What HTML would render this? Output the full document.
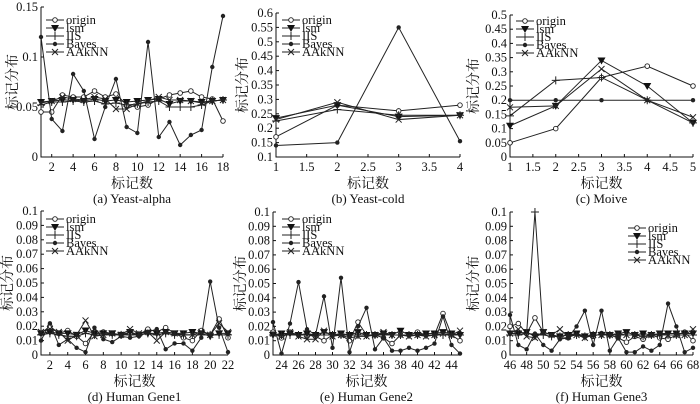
<!DOCTYPE html>
<html><head><meta charset="utf-8"><style>
body{margin:0;background:#fff}
svg{display:block}
text{font-family:"Liberation Serif","Noto Serif CJK SC",serif;fill:#111}
</style></head><body>
<svg id="c" width="700" height="404" xmlns="http://www.w3.org/2000/svg"></svg>
<script>
const seriesNames = ["origin","lsm","IIS","Bayes","AAkNN"];
// Panel (a) Yeast-alpha
const aX = [1,2,3,4,5,6,7,8,9,10,11,12,13,14,15,16,17,18];
const aOrigin = [0.045,0.045,0.062,0.06,0.06,0.066,0.06,0.063,0.052,0.05,0.052,0.058,0.062,0.064,0.066,0.06,0.058,0.036];
const aLsm = [0.055,0.056,0.057,0.057,0.056,0.058,0.056,0.057,0.055,0.056,0.057,0.058,0.053,0.056,0.056,0.055,0.056,0.057];
const aIIS = [0.052,0.055,0.055,0.056,0.055,0.056,0.053,0.054,0.052,0.053,0.055,0.056,0.05,0.05,0.05,0.052,0.056,0.057];
const aBayes = [0.12,0.038,0.026,0.083,0.066,0.018,0.05,0.078,0.03,0.024,0.115,0.02,0.035,0.012,0.022,0.027,0.09,0.141];
const aAAkNN = [0.054,0.056,0.06,0.058,0.057,0.06,0.058,0.048,0.048,0.053,0.056,0.06,0.057,0.057,0.056,0.054,0.056,0.057];
const aYTicks = [0,0.05,0.1,0.15];
const aXTicks = [2,4,6,8,10,12,14,16,18];
// Panel (b) Yeast-cold
const bX = [1,2,3,4];
const bOrigin = [0.17,0.28,0.26,0.28];
const bLsm = [0.235,0.28,0.24,0.245];
const bIIS = [0.225,0.265,0.245,0.245];
const bBayes = [0.14,0.15,0.55,0.155];
const bAAkNN = [0.23,0.29,0.23,0.245];
const bYTicks = [0.1,0.15,0.2,0.25,0.3,0.35,0.4,0.45,0.5,0.55,0.6];
const bXTicks = [1,1.5,2,2.5,3,3.5,4];
// Panel (c) Moive
const cX = [1,2,3,4,5];
const cOrigin = [0.05,0.1,0.28,0.32,0.25];
const cLsm = [0.11,0.18,0.34,0.25,0.12];
const cIIS = [0.145,0.27,0.28,0.2,0.12];
const cBayes = [0.2,0.2,0.2,0.2,0.2];
const cAAkNN = [0.175,0.18,0.31,0.2,0.14];
const cYTicks = [0,0.05,0.1,0.15,0.2,0.25,0.3,0.35,0.4,0.45,0.5];
const cXTicks = [1,1.5,2,2.5,3,3.5,4,4.5,5];
// Panel (d) Human Gene1
const dX = [1,2,3,4,5,6,7,8,9,10,11,12,13,14,15,16,17,18,19,20,21,22];
const dOrigin = [0.015,0.02,0.015,0.017,0.013,0.008,0.016,0.016,0.015,0.014,0.015,0.014,0.018,0.016,0.019,0.015,0.012,0.01,0.017,0.014,0.025,0.012];
const dLsm = [0.015,0.016,0.015,0.015,0.014,0.017,0.015,0.015,0.015,0.014,0.016,0.014,0.015,0.015,0.016,0.015,0.015,0.016,0.015,0.013,0.015,0.015];
const dIIS = [0.014,0.015,0.014,0.013,0.013,0.015,0.014,0.014,0.014,0.014,0.014,0.014,0.015,0.014,0.015,0.014,0.014,0.014,0.014,0.014,0.014,0.014];
const dBayes = [0.01,0.022,0.007,0.011,0.005,0.002,0.019,0.011,0.009,0.013,0.012,0.013,0.016,0.018,0.004,0.008,0.008,0.003,0.012,0.051,0.019,0.002];
const dAAkNN = [0.016,0.018,0.016,0.01,0.014,0.024,0.013,0.014,0.015,0.014,0.018,0.015,0.016,0.01,0.016,0.015,0.014,0.014,0.016,0.014,0.022,0.016];
const dYTicks = [0,0.01,0.02,0.03,0.04,0.05,0.06,0.07,0.08,0.09,0.1];
const dXTicks = [2,4,6,8,10,12,14,16,18,20,22];
// Panel (e) Human Gene2
const eX = [23,24,25,26,27,28,29,30,31,32,33,34,35,36,37,38,39,40,41,42,43,44,45];
const eOrigin = [0.016,0.012,0.016,0.014,0.014,0.013,0.01,0.014,0.014,0.01,0.023,0.014,0.014,0.012,0.008,0.014,0.014,0.016,0.014,0.014,0.029,0.014,0.01];
const eLsm = [0.014,0.015,0.015,0.014,0.015,0.014,0.016,0.014,0.015,0.014,0.016,0.014,0.014,0.015,0.014,0.017,0.014,0.014,0.015,0.015,0.016,0.015,0.014];
const eIIS = [0.014,0.014,0.014,0.014,0.014,0.014,0.014,0.014,0.014,0.014,0.014,0.014,0.014,0.014,0.014,0.014,0.014,0.014,0.014,0.014,0.014,0.014,0.014];
const eBayes = [0.023,0.001,0.022,0.051,0.018,0.014,0.041,0.005,0.054,0.002,0.02,0.033,0.004,0.012,0.003,0.003,0.005,0.003,0.005,0.008,0.027,0.007,0.001];
const eAAkNN = [0.015,0.013,0.016,0.013,0.011,0.011,0.017,0.013,0.014,0.012,0.013,0.013,0.014,0.016,0.014,0.014,0.013,0.014,0.013,0.014,0.015,0.014,0.017];
const eXTicks = [24,26,28,30,32,34,36,38,40,42,44];
// Panel (f) Human Gene3
const fX = [46,47,48,49,50,51,52,53,54,55,56,57,58,59,60,61,62,63,64,65,66,67,68];
const fOrigin = [0.02,0.022,0.015,0.026,0.016,0.014,0.012,0.012,0.015,0.013,0.013,0.015,0.014,0.012,0.009,0.013,0.011,0.014,0.012,0.011,0.014,0.016,0.01];
const fLsm = [0.015,0.015,0.016,0.013,0.016,0.014,0.013,0.014,0.015,0.013,0.014,0.014,0.014,0.015,0.016,0.014,0.015,0.014,0.015,0.015,0.015,0.015,0.015];
const fIIS = [0.014,0.014,0.015,0.1,0.014,0.013,0.013,0.014,0.014,0.013,0.014,0.014,0.014,0.014,0.014,0.014,0.013,0.014,0.014,0.014,0.014,0.014,0.014];
const fBayes = [0.028,0.007,0.004,0.015,0.007,0.003,0.011,0.012,0.02,0.031,0.007,0.031,0.003,0.012,0.002,0.002,0.006,0.003,0.007,0.036,0.02,0.002,0.005];
const fAAkNN = [0.015,0.018,0.013,0.012,0.016,0.014,0.018,0.013,0.014,0.012,0.014,0.014,0.014,0.015,0.014,0.014,0.013,0.014,0.015,0.014,0.014,0.014,0.018];
const fXTicks = [46,48,50,52,54,56,58,60,62,64,66,68];

const svg = document.getElementById('c');
const NS = 'http://www.w3.org/2000/svg';
function mk(tag, attrs, parent){const e=document.createElementNS(NS,tag);for(const k in attrs)e.setAttribute(k,attrs[k]);(parent||svg).appendChild(e);return e;}
function fmt(v){return String(+v.toFixed(3)).replace(/^0(?=\.)/,'0');}

function marker(g,type,x,y){
  let m;
  if(type===0){m=mk('circle',{cx:x,cy:y,r:2.3,fill:'#fff',stroke:'#222','stroke-width':0.9},g);}
  else if(type===1){m=mk('path',{d:`M${x-4},${y-3}L${x+4},${y-3}L${x},${y+4}Z`,fill:'#111'},g);}
  else if(type===2){m=mk('path',{d:`M${x-4},${y}H${x+4}M${x},${y-4}V${y+4}`,stroke:'#222','stroke-width':1},g);}
  else if(type===3){m=mk('circle',{cx:x,cy:y,r:2.2,fill:'#222'},g);}
  else {m=mk('path',{d:`M${x-3},${y-3}L${x+3},${y+3}M${x-3},${y+3}L${x+3},${y-3}`,stroke:'#222','stroke-width':1},g);}
  
  
}

function panel(p){
  const g=mk('g',{});
  
  
  const sx=v=>p.x0+(v-p.xmin)/(p.xmax-p.xmin)*(p.x1-p.x0);
  const sy=v=>p.y0-(v-p.ymin)/(p.ymax-p.ymin)*(p.y0-p.y1);
  const ax=mk('path',{d:`M${p.x0},${p.y1}V${p.y0}H${p.x1}`,fill:'none',stroke:'#111','stroke-width':1},g);
  
  
  p.yt.forEach(v=>{
    mk('path',{d:`M${p.x0},${sy(v)}h3`,stroke:'#111'},g);
    const t=mk('text',{x:p.x0-3,y:sy(v)+4,'text-anchor':'end','font-size':12.5},g);
    t.textContent=fmt(v);
    
    
  });
  p.xt.forEach(v=>{
    mk('path',{d:`M${sx(v)},${p.y0}v-3`,stroke:'#111'},g);
    const t=mk('text',{x:sx(v),y:p.y0+14,'text-anchor':'middle','font-size':12.5},g);
    t.textContent=fmt(v);
    
    
  });
  p.series.forEach((arr,si)=>{
    const pts=arr.map((v,i)=>sx(p.xs[i])+','+sy(v)).join(' ');
    const l=mk('polyline',{points:pts,fill:'none',stroke:'#222','stroke-width':1},g);
    
    
    arr.forEach((v,i)=>marker(g,si,sx(p.xs[i]),sy(v)));
  });
  // legend
  const lg=mk('g',{},g);
  
  
  seriesNames.forEach((n,i)=>{
    const y=p.ly+i*8;
    mk('path',{d:`M${p.lx},${y}h18`,stroke:'#222'},lg);
    marker(lg,i,p.lx+9,y);
    const t=mk('text',{x:p.lx+20,y:y+4,'font-size':12.5},lg);
    t.textContent=n;
    
    
  });
  const yl=mk('text',{x:0,y:0,transform:`translate(${p.ylx},${(p.y0+p.y1)/2}) rotate(-90)`,'text-anchor':'middle','font-size':14},g);
  yl.textContent='标记分布';
  
  
  const xl=mk('text',{x:(p.x0+p.x1)/2,y:p.y0+31,'text-anchor':'middle','font-size':14},g);
  xl.textContent='标记数';
  
  
  const cp=mk('text',{x:(p.x0+p.x1)/2,y:p.y0+46,'text-anchor':'middle','font-size':13},g);
  cp.textContent=p.cap;
  
  
}

panel({id:'a',x0:41,x1:223,y0:157,y1:7,xmin:1,xmax:18,ymin:0,ymax:0.15,xs:aX,series:[aOrigin,aLsm,aIIS,aBayes,aAAkNN],yt:aYTicks,xt:aXTicks,lx:46,ly:20,ylx:17,cap:'(a) Yeast-alpha'});
panel({id:'b',x0:276,x1:460,y0:157,y1:13,xmin:1,xmax:4,ymin:0.1,ymax:0.6,xs:bX,series:[bOrigin,bLsm,bIIS,bBayes,bAAkNN],yt:bYTicks,xt:bXTicks,lx:282,ly:20,ylx:247,cap:'(b) Yeast-cold'});
panel({id:'c',x0:510,x1:693,y0:157,y1:15,xmin:1,xmax:5,ymin:0,ymax:0.5,xs:cX,series:[cOrigin,cLsm,cIIS,cBayes,cAAkNN],yt:cYTicks,xt:cXTicks,lx:516,ly:21,ylx:478,cap:'(c) Moive'});
panel({id:'d',x0:41,x1:228,y0:355,y1:211,xmin:1,xmax:22,ymin:0,ymax:0.1,xs:dX,series:[dOrigin,dLsm,dIIS,dBayes,dAAkNN],yt:dYTicks,xt:dXTicks,lx:46,ly:219,ylx:12,cap:'(d) Human Gene1'});
panel({id:'e',x0:273,x1:460,y0:355,y1:212,xmin:23,xmax:45,ymin:0,ymax:0.1,xs:eX,series:[eOrigin,eLsm,eIIS,eBayes,eAAkNN],yt:dYTicks,xt:eXTicks,lx:282,ly:219,ylx:245,cap:'(e) Human Gene2'});
panel({id:'f',x0:510,x1:693,y0:355,y1:212,xmin:46,xmax:68,ymin:0,ymax:0.1,xs:fX,series:[fOrigin,fLsm,fIIS,fBayes,fAAkNN],yt:dYTicks,xt:fXTicks,lx:628,ly:228,ylx:478,cap:'(f) Human Gene3'});
</script>
</body></html>
